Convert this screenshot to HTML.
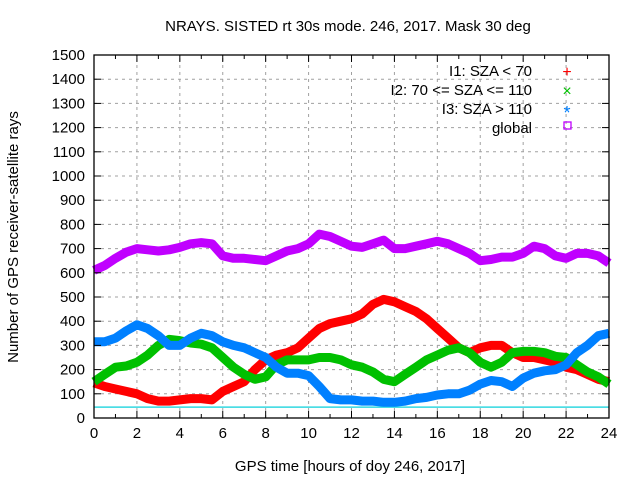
<!DOCTYPE html>
<html><head><meta charset="utf-8"><style>
body{margin:0;background:#fff}
svg{display:block;font-family:"Liberation Sans",sans-serif}
</style></head><body>
<svg id="chart" width="640" height="480" viewBox="0 0 640 480">
<text x="348" y="31" font-size="15" text-anchor="middle">NRAYS. SISTED rt 30s mode. 246, 2017. Mask 30 deg</text>
<text transform="translate(18,237) rotate(-90)" font-size="15" text-anchor="middle">Number of GPS receiver-satellite rays</text>
<text x="350" y="471" font-size="15" text-anchor="middle">GPS time [hours of doy 246, 2017]</text>
<g id="grid"></g>
<g id="series"></g>
<g id="axes"></g>
<g font-size="15" text-anchor="end">
<text x="532" y="76">I1: SZA &lt; 70</text>
<text x="532" y="95">I2: 70 &lt;= SZA &lt;= 110</text>
<text x="532" y="114">I3: SZA &gt; 110</text>
<text x="532" y="133">global</text>
<text x="567" y="77" fill="#ff0000" text-anchor="middle" font-size="16">+</text>
<text x="567" y="96" fill="#00c000" text-anchor="middle" font-size="16">×</text>
<text x="567" y="119" fill="#0080ff" text-anchor="middle" font-size="18">*</text>
<rect x="564" y="122" width="7" height="7" fill="none" stroke="#c000ff" stroke-width="1.3"/>
</g>
</svg>
<script>
const hours=[0,0.5,1,1.5,2,2.5,3,3.5,4,4.5,5,5.5,6,6.5,7,7.5,8,8.5,9,9.5,10,10.5,11,11.5,12,12.5,13,13.5,14,14.5,15,15.5,16,16.5,17,17.5,18,18.5,19,19.5,20,20.5,21,21.5,22,22.5,23,23.5,24];
const i1=[145,130,120,110,100,80,70,70,75,80,80,75,110,130,150,200,240,260,270,290,330,370,390,400,410,430,470,490,480,460,440,410,370,330,290,270,290,300,300,270,250,250,240,230,210,200,180,160,150];
const i2=[150,180,210,215,230,260,300,325,320,310,305,290,250,210,180,160,170,220,240,240,240,250,250,240,220,210,190,160,150,180,210,240,260,280,290,270,230,210,230,270,275,275,270,255,250,220,190,170,140];
const i3=[315,315,330,360,385,370,340,300,300,330,350,340,315,300,290,270,250,210,185,185,175,130,80,75,75,70,70,65,65,70,80,85,95,100,100,115,140,155,150,130,165,185,195,200,220,270,300,340,350];
const globalRays=[610,630,660,685,700,695,690,695,705,720,725,720,670,660,660,655,650,670,690,700,720,760,750,730,710,705,720,735,700,700,710,720,730,720,700,680,650,655,665,665,680,710,700,670,660,680,680,670,640];
const refLine=[45];
const xTicks=[0,2,4,6,8,10,12,14,16,18,20,22,24];
const yTicks=[0,100,200,300,400,500,600,700,800,900,1000,1100,1200,1300,1400,1500];
const X0=94,X1=609,Y0=418,Y1=55;
const xs=h=>X0+(X1-X0)*h/24;
const ys=v=>Y0-(Y0-Y1)*v/1500;
const NS="http://www.w3.org/2000/svg";
function mk(t,a,p){const e=document.createElementNS(NS,t);for(const k in a)e.setAttribute(k,a[k]);p.appendChild(e);return e;}
const grid=document.getElementById('grid'),axes=document.getElementById('axes'),ser=document.getElementById('series');
xTicks.forEach(t=>{
 if(t>0&&t<24){const g=mk('line',{x1:xs(t),x2:xs(t),y1:Y0,y2:Y1,stroke:'#a0a0a0','stroke-dasharray':'3,4'},grid);
 
 }
 const l=mk('text',{x:xs(t),y:Y0+20,'font-size':15,'text-anchor':'middle'},axes);l.textContent=t;
 
 
});
for(let h=0;h<=24;h++){const L=h%2?4:7;mk('line',{x1:xs(h),x2:xs(h),y1:Y0,y2:Y0-L,stroke:'#000'},axes);mk('line',{x1:xs(h),x2:xs(h),y1:Y1,y2:Y1+L,stroke:'#000'},axes);}
yTicks.forEach(t=>{
 if(t>0&&t<1500){const g=mk('line',{x1:X0,x2:X1,y1:ys(t),y2:ys(t),stroke:'#a0a0a0','stroke-dasharray':'3,4'},grid);
 
 }
 mk('line',{x1:X0,x2:X0+7,y1:ys(t),y2:ys(t),stroke:'#000'},axes);
 mk('line',{x1:X1,x2:X1-7,y1:ys(t),y2:ys(t),stroke:'#000'},axes);
 const l=mk('text',{x:X0-9,y:ys(t)+5,'font-size':15,'text-anchor':'end'},axes);l.textContent=t;
 
 
});
const box=mk('rect',{x:X0,y:Y1,width:X1-X0,height:Y0-Y1,fill:'none',stroke:'#000','stroke-width':1.3},axes);


const ref=mk('line',{x1:X0,x2:X1,y1:ys(refLine[0]),y2:ys(refLine[0]),stroke:'#30d8e0','stroke-width':1.5},ser);


function series(vals,color,name){
 const pts=vals.map((v,i)=>xs(hours[i]).toFixed(1)+','+ys(v).toFixed(1)).join(' ');
 const p=mk('polyline',{points:pts,fill:'none',stroke:color,'stroke-width':9,'stroke-linejoin':'round','stroke-linecap':'butt'},ser);
 
 
}
series(i1,'#ff0000','series-i1');
series(i2,'#00c000','series-i2');
series(i3,'#0080ff','series-i3');
series(globalRays,'#c000ff','series-global');
</script>
</body></html>
